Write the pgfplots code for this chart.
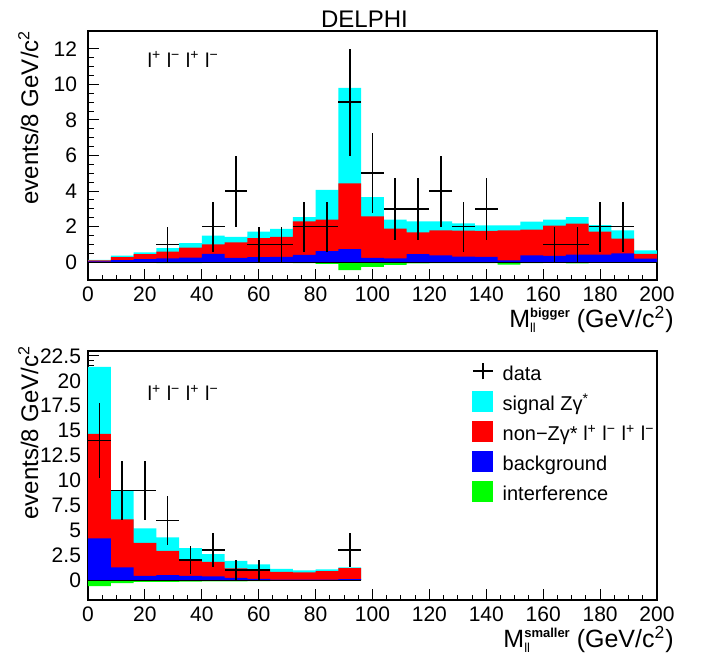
\documentclass[border=0pt]{standalone}
\usepackage{fontspec}
\setmainfont{Liberation Sans}
\usepackage{pgfplots}
\pgfplotsset{compat=1.18}
\definecolor{hcyan}{RGB}{0,255,255}
\definecolor{hred}{RGB}{255,0,0}
\definecolor{hblue}{RGB}{0,0,255}
\definecolor{hgreen}{RGB}{0,255,0}
\pgfplotsset{
  delphi/.style={
    width=284.5pt, height=124.5pt, scale only axis,
    anchor=south west,
    xmin=0, xmax=200,
    xtick={0,20,...,200}, minor x tick num=3,
    tick align=inside, xtick pos=bottom, ytick pos=left,
    major tick length=5.5pt, minor tick length=2.75pt,
    every tick/.style={black, line width=0.5pt},
    axis line style={line width=0.6pt},
    /pgf/number format/assume math mode=true,
    tick label style={font=\fontsize{10.5}{12}\selectfont},
    every axis x label/.style={at={(rel axis cs:1,0)}, anchor=base east, inner sep=0pt, xshift=8.5pt, yshift=-23.5pt, font=\fontsize{12.5}{14}\selectfont},
    every axis y label/.style={at={(rel axis cs:0,1)}, rotate=90, anchor=base east, inner sep=0pt, font=\fontsize{12}{14}\selectfont},
    ylabel={events/8 GeV/c\textsuperscript{2}},
    clip=true,
  },
  hist/.style={const plot, draw=none, fill=#1},
  datapts/.style={mark=none, draw=none,
    error bars/.cd, x dir=both, x explicit, y dir=both, y explicit,
    error mark=none, error bar style={draw=black, line width=0.8pt}, /pgfplots/.cd},
}
\begin{document}
\begin{tikzpicture}
\useasboundingbox (0,0) rectangle (352.5pt,327.5pt);
% ---------------- top panel ----------------
\begin{axis}[delphi, name=top, at={(44pt,187.5pt)},
  ymin=-1, ymax=13, ytick={0,2,...,12}, minor y tick num=3,
  yticklabel style={xshift=-2pt},
  every axis y label/.append style={at={([xshift=-25pt,yshift=0.5pt]rel axis cs:0,1)}},
  title={DELPHI},
  every axis title shift=0pt,
  title style={at={(rel axis cs:0.5,1)}, anchor=base, xshift=-4pt, yshift=2pt, font=\fontsize{12}{14}\selectfont},
  xlabel={M\rlap{\raisebox{-0.45ex}{\fontsize{6.5}{6.5}\selectfont ll}}\raisebox{0.7ex}{\fontsize{6.5}{6.5}\selectfont\bfseries bigger}\ (GeV/c\textsuperscript{2})},
]
\addplot[hist=hcyan] coordinates {
(0,0.13) (8,0.37) (16,0.56) (24,0.79) (32,1.08) (40,1.50) (48,1.42) (56,1.72)
(64,1.87) (72,2.54) (80,4.07) (88,9.80) (96,3.66) (104,2.39) (112,2.30) (120,2.30)
(128,2.19) (136,2.07) (144,2.07) (152,2.28) (160,2.39) (168,2.54) (176,2.09) (184,1.79)
(192,0.67) (200,0.67)} \closedcycle;
\addplot[hist=hred] coordinates {
(0,0.10) (8,0.28) (16,0.45) (24,0.60) (32,0.82) (40,1.00) (48,1.12) (56,1.35)
(64,1.42) (72,2.30) (80,2.39) (88,4.43) (96,2.58) (104,1.89) (112,1.68) (120,1.79)
(128,1.78) (136,1.76) (144,1.79) (152,1.83) (160,2.06) (168,2.17) (176,1.72) (184,1.33)
(192,0.47) (200,0.47)} \closedcycle;
\addplot[hist=hblue] coordinates {
(0,0.05) (8,0.12) (16,0.17) (24,0.22) (32,0.26) (40,0.47) (48,0.24) (56,0.28)
(64,0.30) (72,0.41) (80,0.62) (88,0.73) (96,0.24) (104,0.22) (112,0.45) (120,0.39)
(128,0.32) (136,0.30) (144,0.10) (152,0.39) (160,0.36) (168,0.43) (176,0.43) (184,0.50)
(192,0.20) (200,0.20)} \closedcycle;
\addplot[hist=hgreen] coordinates {
(0,-0.03) (8,-0.03) (16,-0.03) (24,-0.05) (32,-0.05) (40,-0.04) (48,-0.04) (56,-0.04)
(64,-0.04) (72,-0.05) (80,-0.10) (88,-0.45) (96,-0.26) (104,-0.15) (112,-0.06) (120,-0.05)
(128,-0.05) (136,-0.05) (144,-0.13) (152,-0.05) (160,-0.04) (168,-0.06) (176,-0.04) (184,-0.04)
(192,-0.03) (200,-0.03)} \closedcycle;
\addplot[black, line width=0.4pt] coordinates {(0,0) (200,0)};
\addplot[datapts] coordinates {
(28,1) +- (4,1)
(44,2) +- (4,1.41)
(52,4) +- (4,2)
(60,1) +- (4,1)
(68,1) +- (4,1)
(76,2) +- (4,1.41)
(84,2) +- (4,1.41)
(92,9) +- (4,3)
(100,5) +- (4,2.24)
(108,3) +- (4,1.73)
(116,3) +- (4,1.73)
(124,4) +- (4,2)
(132,2) +- (4,1.41)
(140,3) +- (4,1.73)
(164,1) +- (4,1)
(172,1) +- (4,1)
(180,2) +- (4,1.41)
(188,2) +- (4,1.41)};
\node[anchor=base west, inner sep=0pt, font=\fontsize{10}{12}\selectfont] at (rel axis cs:0.104,0.855)
  {l\textsuperscript{+} l\textsuperscript{−} l\textsuperscript{+} l\textsuperscript{−}};
\end{axis}
% ---------------- bottom panel ----------------
\begin{axis}[delphi, name=bot, at={(44pt,27.5pt)},
  ymin=-2, ymax=23, ytick={0,2.5,...,22.5}, minor y tick num=4,
  every axis y label/.append style={at={([xshift=-25pt,yshift=3pt]rel axis cs:0,1)}},
  xlabel={M\rlap{\raisebox{-0.45ex}{\fontsize{6.5}{6.5}\selectfont ll}}\raisebox{0.7ex}{\fontsize{6.5}{6.5}\selectfont\bfseries smaller}\ (GeV/c\textsuperscript{2})},
  legend cell align=left,
  legend style={at={(rel axis cs:0.675,0.957)}, anchor=north west, draw=none, fill=none,
    inner sep=0pt, outer sep=0pt, row sep=2.3pt,
    font=\fontsize{10}{12}\selectfont,
    nodes={inner sep=0pt, text height=7.5pt, text depth=2.5pt},
    /tikz/every odd column/.append style={column sep=4.5pt}},
]
\addlegendimage{legend image code/.code={\draw[black, line width=0.8pt] (0pt,2.5pt)--(10pt,2.5pt) (5pt,-1.7pt)--(5pt,6.7pt);}}
\addlegendimage{legend image code/.code={\fill[hcyan] (0pt,-2.5pt) rectangle (10pt,7.5pt);}}
\addlegendimage{legend image code/.code={\fill[hred] (0pt,-2.5pt) rectangle (10pt,7.5pt);}}
\addlegendimage{legend image code/.code={\fill[hblue] (0pt,-2.5pt) rectangle (10pt,7.5pt);}}
\addlegendimage{legend image code/.code={\fill[hgreen] (0pt,-2.5pt) rectangle (10pt,7.5pt);}}
\addplot[hist=hcyan, forget plot] coordinates {
(0,21.4) (8,9.0) (16,5.2) (24,4.3) (32,3.2) (40,2.6) (48,1.93) (56,1.57)
(64,1.13) (72,0.97) (80,1.07) (88,1.27) (96,1.27)} \closedcycle;
\addplot[hist=hred, forget plot] coordinates {
(0,14.67) (8,6.1) (16,3.73) (24,2.93) (32,2.1) (40,1.83) (48,1.17) (56,1.1)
(64,0.83) (72,0.77) (80,0.9) (88,1.2) (96,1.2)} \closedcycle;
\addplot[hist=hblue, forget plot] coordinates {
(0,4.2) (8,1.27) (16,0.43) (24,0.5) (32,0.43) (40,0.37) (48,0.23) (56,0.13)
(64,0.05) (72,0.05) (80,0.05) (88,0.1) (96,0.1)} \closedcycle;
\addplot[hist=hgreen, forget plot] coordinates {
(0,-0.6) (8,-0.3) (16,-0.17) (24,-0.17) (32,-0.15) (40,-0.12) (48,-0.12) (56,-0.1)
(64,-0.08) (72,-0.05) (80,-0.03) (88,-0.03) (96,-0.03)} \closedcycle;
\addplot[black, line width=0.4pt, forget plot] coordinates {(0,0) (96,0)};
\addplot[forget plot, datapts] coordinates {
(4,14) +- (4,3.74)
(12,9) +- (4,3)
(20,9) +- (4,3)
(28,6) +- (4,2.45)
(36,2) +- (4,1.41)
(44,3) +- (4,1.73)
(52,1) +- (4,1)
(60,1) +- (4,1)
(92,3) +- (4,1.73)};
\node[anchor=base west, inner sep=0pt, font=\fontsize{10}{12}\selectfont] at (rel axis cs:0.104,0.80)
  {l\textsuperscript{+} l\textsuperscript{−} l\textsuperscript{+} l\textsuperscript{−}};
\legend{data, signal Zγ\textsuperscript{*}, non−Zγ* l\textsuperscript{+} l\textsuperscript{−} l\textsuperscript{+} l\textsuperscript{−}, background, interference}
\end{axis}
\end{tikzpicture}
\end{document}
